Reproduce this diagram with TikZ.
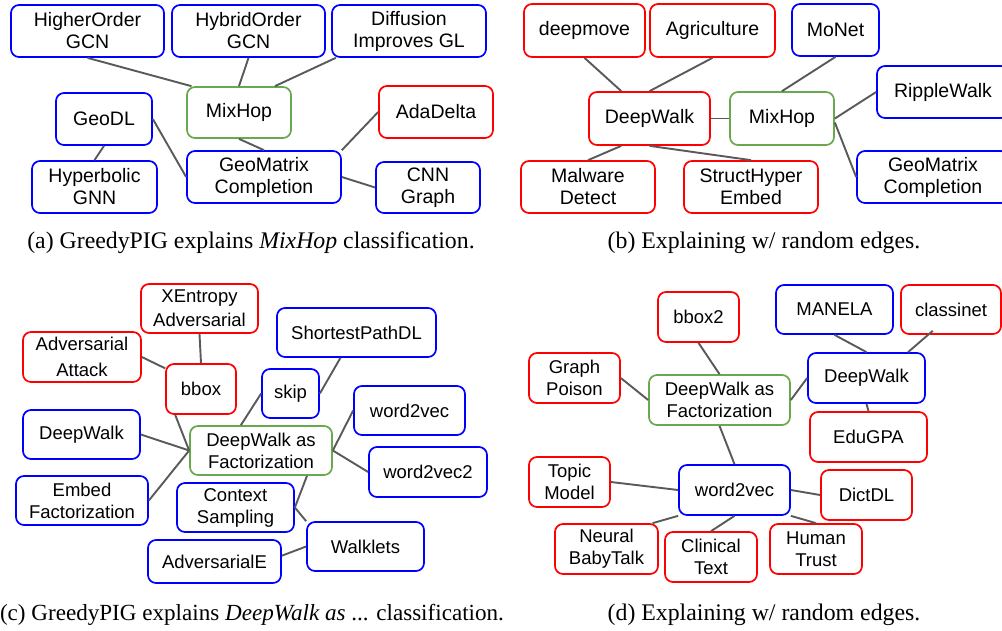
\documentclass[tikz,border=0pt]{standalone}
\usepackage{fontspec}
\setmainfont{Liberation Serif}
\newfontfamily\arialf{Liberation Sans}
\usetikzlibrary{calc}
\definecolor{boxblue}{HTML}{0000FF}
\definecolor{boxred}{HTML}{FF0000}
\definecolor{boxgreen}{HTML}{6AA84F}
\definecolor{edgegray}{HTML}{595959}
\tikzset{
  bx/.style={draw, rounded corners=8pt, line width=1.7pt, inner sep=0pt, align=center},
  topf/.style={font=\arialf\fontsize{19.5}{22}\selectfont},
  botf/.style={font=\arialf\fontsize{18.5}{22}\selectfont},
  blu/.style={bx, draw=boxblue},
  rd/.style={bx, draw=boxred},
  gr/.style={bx, draw=boxgreen},
  wh/.style 2 args={minimum width=#1pt, minimum height=#2pt},
  ed/.style={draw=edgegray, line width=1.9pt},
  capstyle/.style={font=\fontsize{23.8}{26}\selectfont, anchor=base, inner sep=0pt}
}
\begin{document}
\begin{tikzpicture}[x=1pt, y=-1pt]
\useasboundingbox (0,0) rectangle (1002,630);
\clip (0,0) rectangle (1002,630);
% ---------- (a)
\begin{scope}[every node/.append style={topf}]
\node[blu, wh={153}{52}] (ho) at (87.5,31) {HigherOrder\\GCN};
\node[blu, wh={153}{52}] (hy) at (248.5,31) {HybridOrder\\GCN};
\node[blu, wh={154}{52}] (di) at (409,31) {Diffusion\\Improves GL};
\node[gr, wh={104}{51}] (mh) at (239,112.5) {MixHop};
\node[blu, wh={96}{52}] (geo) at (104,119) {GeoDL};
\node[rd, wh={114}{52}] (ada) at (436,112) {AdaDelta};
\node[blu, wh={125}{52}] (hyp) at (94.5,187) {Hyperbolic\\GNN};
\node[blu, wh={154}{52}] (gm) at (264,177) {GeoMatrix\\Completion};
\node[blu, wh={104}{51}] (cnn) at (428,187.5) {CNN\\Graph};
\end{scope}
\draw[ed] (ho.south) -- ($(mh.north west)!0.05!(mh.north east)$);
\draw[ed] (hy.south) -- (mh.north);
\draw[ed] ($(di.south west)!0.03!(di.south east)$) -- ($(mh.north west)!0.84!(mh.north east)$);
\draw[ed] (mh.south) -- (gm.north);
\draw[ed] (geo.east) -- (gm.west);
\draw[ed] (geo.south) -- (hyp.north);
\draw[ed] (ada.west) -- (gm.north east);
\draw[ed] (gm.east) -- (cnn.west);
\node[capstyle] (capa) at (251,248) {(a) GreedyPIG explains \textit{MixHop} classification.};
% ---------- (b)
\begin{scope}[every node/.append style={topf}]
\node[rd, wh={121}{53}] (dm) at (584.5,30.5) {deepmove};
\node[rd, wh={125}{53}] (ag) at (712.5,30.5) {Agriculture};
\node[blu, wh={87}{52}] (mo) at (835.5,30) {MoNet};
\node[rd, wh={121}{53}] (dwb) at (649.5,118.5) {DeepWalk};
\node[gr, wh={104}{53}] (mhb) at (782,118.5) {MixHop};
\node[blu, wh={132}{52}] (rw) at (943,92) {RippleWalk};
\node[blu, wh={152}{52}] (gmb) at (933,177) {GeoMatrix\\Completion};
\node[rd, wh={134}{52}] (mal) at (588,187) {Malware\\Detect};
\node[rd, wh={134}{52}] (sh) at (751,187) {StructHyper\\Embed};
\end{scope}
\draw[ed] (dm.south) -- ($(dwb.north west)!0.27!(dwb.north east)$);
\draw[ed] (ag.south) -- (dwb.north);
\draw[ed] (mo.south) -- (mhb.north);
\draw[ed] (dwb.east) -- (mhb.west);
\draw[ed] (mhb.east) -- (rw.west);
\draw[ed] ($(mhb.east)+(0,4)$) -- (gmb.west);
\draw[ed] ($(dwb.south west)!0.27!(dwb.south east)$) -- (mal.north);
\draw[ed] (dwb.south) -- (sh.north);
\node[capstyle] (capb) at (764,248) {(b) Explaining w/ random edges.};
% ---------- (c)
\begin{scope}[every node/.append style={botf}]
\node[rd, wh={117}{49}] (xe) at (199.5,308.5) {XEntropy\\[2pt]Adversarial};
\node[rd, wh={118}{50}] (aa) at (82,357) {Adversarial\\[4pt]Attack};
\node[rd, wh={70}{50}] (bb) at (201,389) {bbox};
\node[blu, wh={159}{49}] (sp) at (356.5,332.5) {ShortestPathDL};
\node[blu, wh={57}{49}] (sk) at (290.5,393.5) {skip};
\node[blu, wh={111}{49}] (wv) at (409.5,410.5) {word2vec};
\node[blu, wh={117}{49}] (dw) at (81.5,434.5) {DeepWalk};
\node[gr, wh={142}{49}] (dwf) at (261,450.5) {DeepWalk as\\Factorization};
\node[blu, wh={118}{50}] (wv2) at (428,472) {word2vec2};
\node[blu, wh={132}{49}] (ef) at (82,500.5) {Embed\\Factorization};
\node[blu, wh={117}{49}] (cs) at (235.5,507.5) {Context\\Sampling};
\node[blu, wh={117}{49}] (wl) at (365.5,546.5) {Walklets};
\node[blu, wh={133}{43}] (ae) at (214.5,561.5) {AdversarialE};
\end{scope}
\draw[ed] (xe.south) -- (bb.north);
\draw[ed] (aa.east) -- ($(bb.north west)!0.1!(bb.south west)$);
\draw[ed] ($(bb.south west)!0.14!(bb.south east)$) -- (dwf.west);
\draw[ed] (dw.east) -- (dwf.west);
\draw[ed] (ef.east) -- (dwf.west);
\draw[ed] (sk.west) -- ($(dwf.north west)!0.36!(dwf.north east)$);
\draw[ed] ($(sp.south west)!0.4!(sp.south east)$) -- (sk.east);
\draw[ed] (wv.west) -- (dwf.east);
\draw[ed] (dwf.east) -- (wv2.west);
\draw[ed] ($(dwf.south west)!0.82!(dwf.south east)$) -- (cs.east);
\draw[ed] (cs.east) -- (wl.north west);
\draw[ed] (wl.west) -- ($(ae.north east)!0.37!(ae.south east)$);
\node[capstyle, font=\fontsize{23.1}{26}\selectfont] (capc) at (252,620) {(c) GreedyPIG explains \textit{DeepWalk as} ... classification.};
% ---------- (d)
\begin{scope}[every node/.append style={botf}]
\node[rd, wh={81}{50}] (bb2) at (698.5,317) {bbox2};
\node[blu, wh={117}{49}] (man) at (834.5,309.5) {MANELA};
\node[rd, wh={100}{49}] (cl) at (951,309.5) {classinet};
\node[rd, wh={91}{50}] (gp) at (574.5,378) {Graph\\Poison};
\node[gr, wh={141}{50}] (dwf2) at (719.5,400) {DeepWalk as\\Factorization};
\node[blu, wh={117}{50}] (dw2) at (866.5,378) {DeepWalk};
\node[rd, wh={117}{50}] (edu) at (868.5,437) {EduGPA};
\node[rd, wh={81}{50}] (tm) at (569.5,482) {Topic\\Model};
\node[blu, wh={111}{50}] (w2) at (734.5,490) {word2vec};
\node[rd, wh={91}{50}] (dd) at (866.5,495) {DictDL};
\node[rd, wh={103}{50}] (nb) at (606.5,549) {Neural\\BabyTalk};
\node[rd, wh={92}{50}] (ct) at (711,557) {Clinical\\Text};
\node[rd, wh={92}{50}] (ht) at (816,549) {Human\\Trust};
\end{scope}
\draw[ed] (bb2.south) -- (dwf2.north);
\draw[ed] (gp.east) -- (dwf2.west);
\draw[ed] (dwf2.east) -- (dw2.west);
\draw[ed] (man.south) -- (dw2.north);
\draw[ed] ($(cl.south west)!0.32!(cl.south east)+(0,-4)$) -- ($(dw2.north west)!0.85!(dw2.north east)$);
\draw[ed] (dw2.south) -- (edu.north);
\draw[ed] (dwf2.south) -- (w2.north);
\draw[ed] (tm.east) -- (w2.west);
\draw[ed] (w2.east) -- (dd.west);
\draw[ed] (w2.south west) -- ($(nb.north west)!0.94!(nb.north east)$);
\draw[ed] (w2.south) -- (ct.north);
\draw[ed] (w2.south east) -- (ht.north);
\node[capstyle] (capd) at (764,620) {(d) Explaining w/ random edges.};
\end{tikzpicture}
\end{document}
